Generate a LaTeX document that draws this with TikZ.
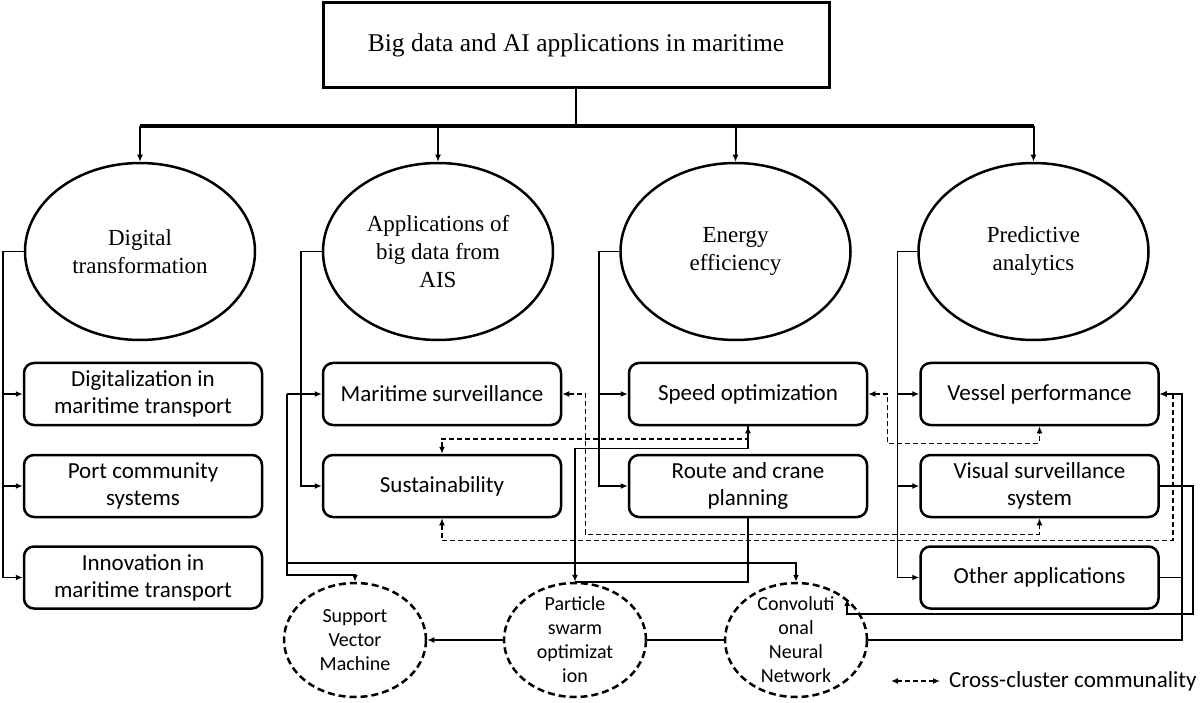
\documentclass[tikz,border=0pt]{standalone}
\usepackage{fontspec}
\setmainfont{Liberation Serif}
\newfontfamily\boxfont{Carlito}
\usetikzlibrary{shapes.geometric,arrows.meta}
\begin{document}
\begin{tikzpicture}[x=1pt,y=-1pt,
  tip/.tip={Latex[length=7pt,width=6pt]},
  arr/.style={line width=1.5pt,-tip},
  conn/.style={line width=1.5pt},
  darr/.style={line width=1.5pt,dash pattern=on 5pt off 3pt,tip-tip},
  ell/.style={draw,ellipse,line width=2.5pt,minimum width=230pt,minimum height=177pt,align=center,inner sep=0pt,font=\fontsize{23}{28}\selectfont},
  box/.style={draw,rounded corners=10pt,line width=2.5pt,minimum width=238pt,minimum height=62pt,align=center,inner sep=0pt,font=\boxfont\fontsize{23}{27}\selectfont},
  algo/.style={draw,ellipse,dash pattern=on 7pt off 4pt,line width=2.5pt,minimum width=142pt,minimum height=114pt,inner sep=-14pt,align=center,font=\boxfont\fontsize{20}{24}\selectfont}
]
\useasboundingbox (0,0) rectangle (1200,703);
\fill[white] (0,0) rectangle (1200,703);

% title
\node[draw,line width=3pt,minimum width=506pt,minimum height=85pt,font=\fontsize{25.5}{30}\selectfont] (top) at (576,45.5) {Big data and AI applications in maritime};

% ellipses
\node[ell] (e1) at (140,251.5) {Digital\\transformation};
\node[ell] (e2) at (438,251.5) {Applications of\\big data from\\AIS};
\node[ell] (e3) at (735.5,251.5) {Energy\\efficiency};
\node[ell] (e4) at (1033.5,251.5) {Predictive\\analytics};

% boxes
\node[box] (b11) at (143,394) {Digitalization in\\maritime transport};
\node[box] (b12) at (143,486) {Port community\\systems};
\node[box] (b13) at (143,577.5) {Innovation in\\maritime transport};
\node[box] (b21) at (442,394) {Maritime surveillance};
\node[box] (b22) at (442,486) {Sustainability};
\node[box] (b31) at (748,394) {Speed optimization};
\node[box] (b32) at (748,486) {Route and crane\\planning};
\node[box] (b41) at (1039.5,394) {Vessel performance};
\node[box] (b42) at (1039.5,486) {Visual surveillance\\system};
\node[box] (b43) at (1039.5,577.5) {Other applications};

% algorithms
\node[algo] (svm) at (355,640) {Support\\Vector\\Machine};
\node[algo] (pso) at (575,640) {Particle\\swarm\\optimizat\\ion};
\node[algo] (cnn) at (796,640) {Convoluti\\onal\\Neural\\Network};

% tree
\coordinate (bus) at (576,126);
\draw[line width=2.5pt] (top.south) -- (bus);
\draw[line width=3.5pt] (e1.north |- bus) -- (e4.north |- bus);
\foreach \e in {e1,e2,e3,e4} \draw[arr,line width=2pt] (\e.north |- bus) -- (\e.north);

% cluster links
\draw[arr] (e1.west) -| ([xshift=-20pt]b13.west) -- (b13.west);
\draw[arr] ([xshift=-20pt]b11.west) -- (b11.west);
\draw[arr] ([xshift=-20pt]b12.west) -- (b12.west);

\draw[arr] (e2.west) -| ([xshift=-21pt]b22.west) -- (b22.west);
\draw[arr] ([xshift=-35pt]b21.west) -- (b21.west);

\draw[arr] (e3.west) -| ([xshift=-29pt]b32.west) -- (b32.west);
\draw[arr] ([xshift=-29pt]b31.west) -- (b31.west);

\draw[arr] (e4.west) -| ([xshift=-22pt]b43.west) -- (b43.west);
\draw[arr] ([xshift=-22pt]b41.west) -- (b41.west);
\draw[arr] ([xshift=-22pt]b42.west) -- (b42.west);

% algorithm links
\draw[arr] ([xshift=-35pt]b21.west) |- ([yshift=7pt]svm.north) -- (svm.north);
\draw[arr] ([xshift=-35pt,yshift=-169pt]b21.west) -| (cnn.north);
\draw[arr] (b31.south) -- ([yshift=-22pt]b31.south) -| (pso.north);
\draw[conn] (b32.south) |- (pso.north);
\draw[arr] (cnn.east) -| ([xshift=22pt]b41.east) -- (b41.east);
\draw[conn] (b43.east) -- ([xshift=22pt]b43.east);
\draw[arr] (b42.east) -- ([xshift=33pt]b42.east) |- ([yshift=-15pt]cnn.north east) -- (cnn.north east);
\draw[arr] (pso.west) -- (svm.east);
\draw[conn] (cnn.west) -- (pso.east);

% cross-cluster (dashed)
\draw[darr] (b22.north) -- ([yshift=15pt]b22.north) -| (b31.south);
\draw[darr] (b21.east) -- ([xshift=23pt]b21.east) |- ([yshift=-16pt]b42.south) -- (b42.south);
\draw[darr] (b22.south) -- ([yshift=-22pt]b22.south) -| ([xshift=13pt]b41.east) -- (b41.east);
\draw[darr] (b31.east) -- ([xshift=19pt]b31.east) |- ([yshift=-17pt]b41.south) -- (b41.south);

% legend
\coordinate (lg1) at (891,681);
\coordinate (lg2) at (940,681);
\draw[darr] (lg1) -- (lg2);
\node[anchor=west,inner sep=0pt,font=\boxfont\fontsize{23}{27}\selectfont] (legend) at (949,681) {Cross-cluster communality};
\end{tikzpicture}
\end{document}
